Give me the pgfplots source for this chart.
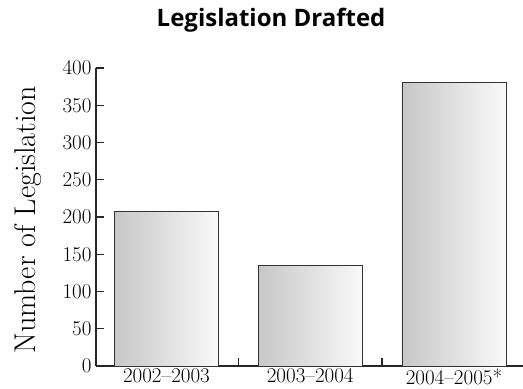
\documentclass[border=0pt]{standalone}
\usepackage{pgfplots}
\pgfplotsset{compat=1.18}
\usepackage{fontspec}
\newfontfamily\titlefont{Open Sans}
\begin{document}
\begin{tikzpicture}
\begin{axis}[
  scale only axis,
  width=427pt, height=298pt,
  xmin=-0.49, xmax=2.48,
  ymin=0, ymax=400,
  axis x line=bottom, axis y line=left,
  axis line style={-, line width=1.4pt, black!85},
  ytick={0,50,...,400},
  tick align=inside,
  major tick length=8pt,
  tick style={line width=1.4pt, black!85},
  xtick={0.5,1.5}, xticklabels={},
  extra x ticks={0,1,2},
  extra x tick labels={2002--2003,2003--2004,2004--2005*},
  extra x tick style={major tick length=0pt, tick style={draw=none}},
  /pgf/number format/assume math mode=true,
  tick label style={font=\fontsize{21}{23}\selectfont},
  xticklabel style={yshift=1pt},
  yticklabel style={xshift=-1pt},
  ylabel={Number of Legislation},
  ylabel style={at={(axis description cs:-0.159,0.49)}, anchor=center, font=\fontsize{30}{34}\selectfont},
  clip=false,
]
\addplot[ybar, bar width=104pt, bar shift=0pt, draw=black!80, line width=0.7pt, left color=black!22, right color=black!2, mark=none]
  coordinates {(0,207)};
\addplot[ybar, bar width=104pt, bar shift=0pt, draw=black!80, line width=0.7pt, left color=black!22, right color=black!2, mark=none]
  coordinates {(1,135)};
\addplot[ybar, bar width=104pt, bar shift=0pt, draw=black!80, line width=0.7pt, left color=black!22, right color=black!2, mark=none]
  coordinates {(2,381)};
\coordinate (O) at (rel axis cs:0,0);
\coordinate (T) at (rel axis cs:1,1);
\node[font=\titlefont\bfseries\fontsize{24}{28}\selectfont, anchor=center] at (rel axis cs:0.41,1) [yshift=48pt] {Legislation Drafted};
\end{axis}
\pgfresetboundingbox
\path ([shift={(-96pt,-23pt)}]O) rectangle ([shift={(0pt,68pt)}]T);
\end{tikzpicture}
\end{document}
